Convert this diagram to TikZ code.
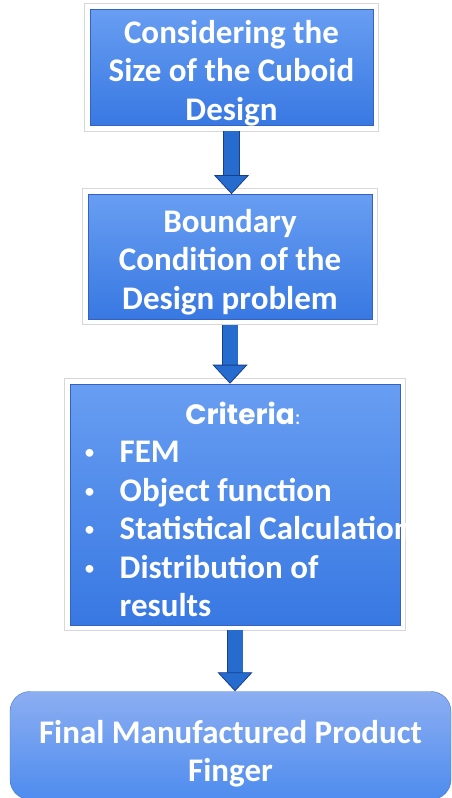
\documentclass[tikz,border=0pt]{standalone}
\usepackage{fontspec}
\setmainfont{Carlito}
\newfontfamily\headfont{Poppins}
\usetikzlibrary{
  arrows.meta,
  positioning,
  calc
}
\definecolor{boxtop}{RGB}{104, 158, 242}
\definecolor{boxbottom}{RGB}{56, 120, 226}
\definecolor{boxedge}{RGB}{52, 98, 190}
\definecolor{frameshadow}{RGB}{215, 215, 215}
\definecolor{arrowfill}{RGB}{38, 108, 206}
\definecolor{arrowedge}{RGB}{24, 62, 140}
\definecolor{finaltop}{RGB}{140, 174, 242}
\definecolor{finalbottom}{RGB}{78, 140, 238}
\tikzset{
boxtext/.style={
  align=center,
  font=\fontsize{33}{38.5}\selectfont\bfseries,
  text=white
},
stepbox/.style={
  rectangle,
  top color=boxtop,
  bottom color=boxbottom,
  draw=boxedge,
  line width=0.6pt,
  preaction={draw=frameshadow, line width=12pt, rounded corners=2pt},
  preaction={draw=white, line width=10pt, rounded corners=2pt},
  inner sep=0pt,
  boxtext
},
finalbox/.style={
  rectangle,
  rounded corners=20pt,
  top color=finaltop,
  bottom color=finalbottom,
  draw=finalbottom!85!black,
  line width=0.4pt,
  inner sep=0pt,
  boxtext
},
flowarrow/.style={
  -{Triangle[length=19pt,width=35pt,line width=0.8pt,fill=arrowfill]},
  draw=arrowedge,
  line width=0.8pt,
  double=arrowfill,
  double distance=15pt,
  shorten <=5pt
}
}
\newcommand{\critbullet}{\raisebox{3pt}{\mdseries\fontsize{22}{22}\selectfont\textbullet}}
% taller first line pushes the text block down a little
\newcommand{\firstline}[1]{\rule{0pt}{#1}}
\begin{document}
\begin{tikzpicture}[x=1pt,y=-1pt]
  \useasboundingbox (0,0) rectangle (451,798);

  % the three framed steps
  \node[stepbox, minimum width=283pt, minimum height=115pt] (size) at (231.5,67.5)
    {\firstline{34pt}Considering the\\Size of the Cuboid\\Design};
  \node[stepbox, minimum width=284pt, minimum height=125pt, below=68pt of size, xshift=-1.5pt] (boundary)
    {\firstline{33pt}Boundary\\Condition of the\\Design problem};
  \node[stepbox, minimum width=330pt, minimum height=241pt, below=64pt of boundary, xshift=5pt] (criteria) {};

  % criteria list, left aligned inside the box
  \node[boxtext, anchor=base] (crithead) at ($(criteria.north)+(8,41)$)
    {{\headfont\fontsize{28}{34}\selectfont Criteria}{\mdseries\fontsize{22}{26}\selectfont:}};
  \node[boxtext, anchor=base west, align=left] (critlist) at ($(criteria.north west)+(11,79)$)
    {\begin{tabular}[t]{@{}p{35.5pt}@{}l@{}}
      \critbullet & FEM\\
      \critbullet & Object function\\
      \critbullet & Statistical Calculation\\
      \critbullet & Distribution of\\
                  & results
     \end{tabular}};

  % result
  \node[finalbox, minimum width=441pt, minimum height=108pt, below=66pt of criteria, xshift=-4.5pt] (final)
    {\firstline{40pt}Final Manufactured Product\\Finger};

  \draw[flowarrow] (size.south) -- (size.south |- boundary.north);
  \draw[flowarrow] (boundary.south) -- (boundary.south |- criteria.north);
  \draw[flowarrow] (criteria.south) -- (criteria.south |- final.north);
\end{tikzpicture}
\end{document}
